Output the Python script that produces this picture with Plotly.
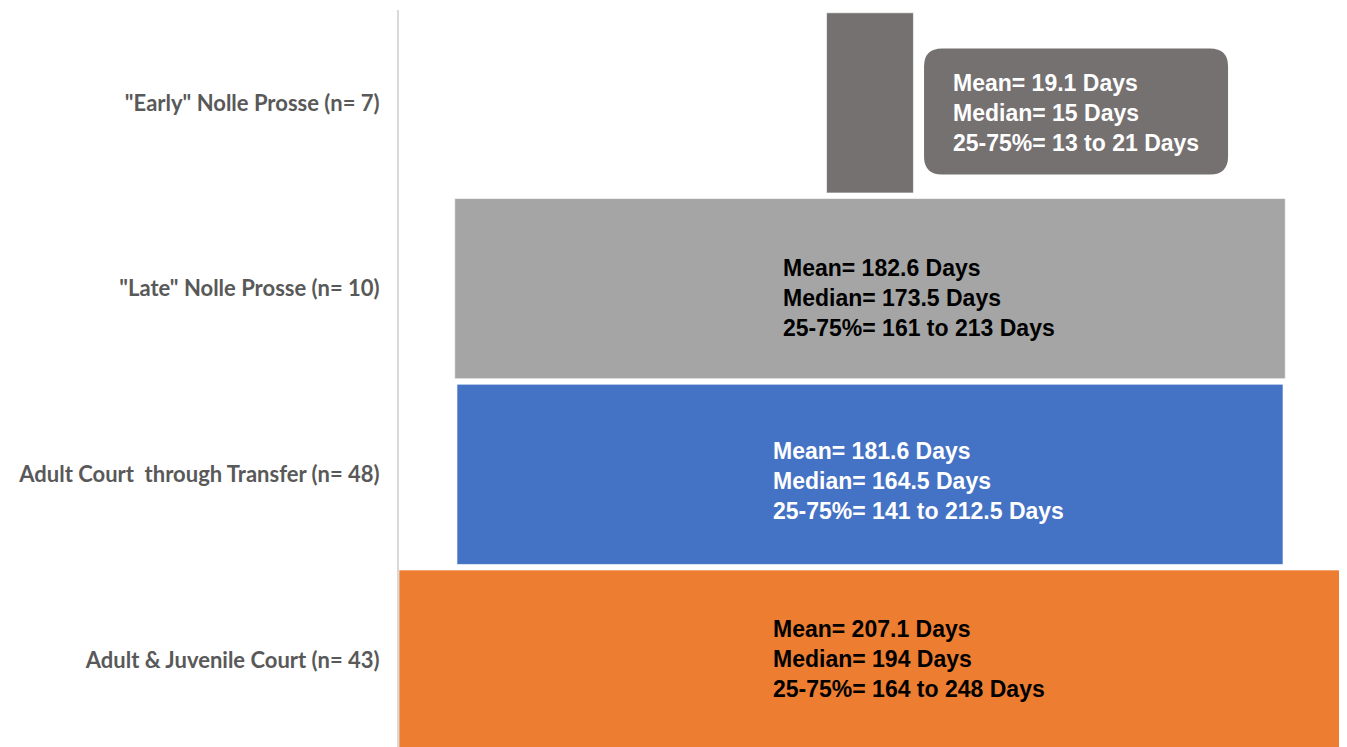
import plotly.graph_objects as go

categories = ['"Early" Nolle Prosse (n= 7)', '"Late" Nolle Prosse (n= 10)',
              'Adult Court  through Transfer (n= 48)', 'Adult & Juvenile Court (n= 43)']
mean_days = [19.1, 182.6, 181.6, 207.1]
median_days = [15, 173.5, 164.5, 194]
q25_days = [13, 161, 141, 164]
q75_days = [21, 213, 212.5, 248]

colors = ['#757171', '#A5A5A5', '#4472C4', '#ED7D31']
text_colors = ['white', 'black', 'white', 'black']
text_x = [17.8, -19.6, -21.8, -21.8]
text_yshift = [-10, -9, -7, 1]

def fmt(v):
    return f"{v:g}"

labels = [f"Mean= {fmt(m)} Days<br>Median= {fmt(md)} Days<br>25-75%= {fmt(a)} to {fmt(b)} Days"
          for m, md, a, b in zip(mean_days, median_days, q25_days, q75_days)]

fig = go.Figure(go.Funnel(
    y=categories, x=mean_days,
    marker=dict(color=colors, line=dict(color='rgba(255,255,255,0.6)', width=1)),
    textinfo='none', hoverinfo='skip',
    connector=dict(visible=False),
))

xmax = max(mean_days)
txtfont = dict(family='Liberation Sans Narrow, Arial Narrow, Liberation Sans, sans-serif',
               size=23, weight='bold')

# rounded callout box for the first category
r = 18
w, h = 152, 63
path = (f"M {-w + r},{-h} L {w - r},{-h} Q {w},{-h} {w},{-h + r} L {w},{h - r} Q {w},{h} {w - r},{h} "
        f"L {-w + r},{h} Q {-w},{h} {-w},{h - r} L {-w},{-h + r} Q {-w},{-h} {-w + r},{-h} Z")
fig.add_shape(type='path', xref='x', yref='y', xsizemode='pixel', ysizemode='pixel',
              xanchor=45.3, yanchor=0.046, path=path,
              fillcolor=colors[0], line=dict(width=0), layer='below')

for i, cat in enumerate(categories):
    fig.add_annotation(x=text_x[i], y=cat, xref='x', yref='y', text=labels[i],
                       showarrow=False, xanchor='left', yanchor='middle', align='left',
                       yshift=text_yshift[i],
                       font=dict(color=text_colors[i], **txtfont))

fig.update_layout(
    width=1347, height=747,
    margin=dict(l=391, r=14, t=1.5, b=1.5),
    plot_bgcolor='white', paper_bgcolor='white',
    funnelgap=0.03,
    showlegend=False,
    xaxis=dict(range=[-xmax / 2, xmax / 2], visible=False),
    yaxis=dict(range=[3.5, -0.5], showline=True, linecolor='#D9D9D9', linewidth=2,
               ticks='', ticklabelstandoff=13,
               tickfont=dict(family='Lato, Open Sans, sans-serif', size=22, color='#595959',
                             weight='bold')),
)

fig.write_html("out.html")
